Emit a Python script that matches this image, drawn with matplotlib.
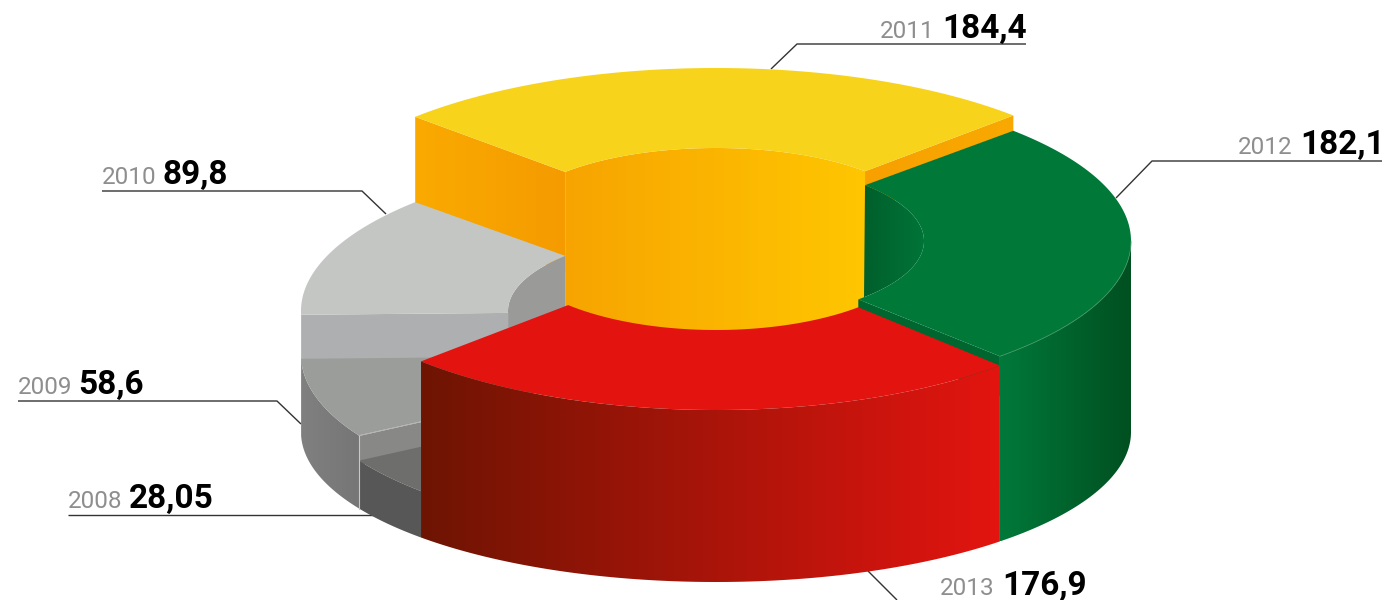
import numpy as np
import matplotlib
matplotlib.use('Agg')
import matplotlib.pyplot as plt
from matplotlib.colors import LinearSegmentedColormap
from matplotlib.patches import Polygon

# 数据
years = ['2008', '2009', '2010', '2011', '2012', '2013']
values = [28.05, 58.6, 89.8, 184.4, 182.1, 176.9]
value_labels = ['28,05', '58,6', '89,8', '184,4', '182,1', '176,9']

# 图形几何（像素坐标）
CX = 716
RX, RX_IN = 415, 208
START_ANGLE = 224.7
BASE_Y, BASE_RY = 432, 150
# 每块的顶面：中心 y、外 ry、内 ry
LEVELS = [(380, 158, 80), (355, 158, 80), (311, 158, 80),
          (225, 157, 77), (241, 158, 80), (246, 164, 84)]

plt.rcParams['font.family'] = ['Roboto', 'DejaVu Sans']

fig = plt.figure(figsize=(13.86, 6), dpi=100)
ax = fig.add_axes([0, 0, 1, 1])
ax.set_axis_off()


def arc(cy, rx, ry, a0, a1, n=120):
    t = np.radians(np.linspace(a0, a1, n))
    return np.column_stack([CX + rx * np.cos(t), cy - ry * np.sin(t)])


def fill(points, color, z=1, edge='none', lw=0):
    ax.add_patch(Polygon(points, closed=True, facecolor=color, edgecolor=edge, linewidth=lw, zorder=z))


def fill_gradient(points, color_left, color_right, z=1):
    """水平渐变，用多边形裁剪"""
    points = np.asarray(points)
    patch = Polygon(points, closed=True, facecolor='none', edgecolor='none', zorder=z)
    ax.add_patch(patch)
    cmap = LinearSegmentedColormap.from_list('g', [color_left, color_right])
    im = ax.imshow(np.linspace(0, 1, 256).reshape(1, -1), cmap=cmap, aspect='auto', zorder=z,
                   extent=(points[:, 0].min(), points[:, 0].max(), points[:, 1].max(), points[:, 1].min()))
    im.set_clip_path(patch)


def top_surface(i):
    cy, ry, ri = LEVELS[i]
    return np.vstack([arc(cy, RX, ry, edges[i], edges[i + 1]),
                      arc(cy, RX_IN, ri, edges[i + 1], edges[i])])


def outer_wall(i, a0, a1):
    cy, ry, ri = LEVELS[i]
    return np.vstack([arc(cy, RX, ry, a0, a1), arc(BASE_Y, RX, BASE_RY, a1, a0)])


def radial_wall(i, angle, drop):
    cy, ry, ri = LEVELS[i]
    inner = arc(cy, RX_IN, ri, angle, angle, 1)[0]
    outer = arc(cy, RX, ry, angle, angle, 1)[0]
    return np.array([inner, outer, outer + [0, drop], inner + [0, drop]])


edges = START_ANGLE - np.concatenate([[0], np.cumsum(values)]) / np.sum(values) * 360

# 2011 黄色块
cy, ry, ri = LEVELS[3]
hole = arc(cy, RX_IN, ri, edges[3], edges[4])
fill_gradient(np.vstack([hole, [hole[-1, 0], 340], [hole[0, 0], 340]]), '#F7A400', '#FFC600', z=1)
fill_gradient(radial_wall(3, edges[3], 100), '#FAAA00', '#F59B00', z=2)
fill_gradient(radial_wall(3, edges[4], 40), '#F7A000', '#F9A900', z=2)
fill(top_surface(3), '#F7D31C', z=3)

# 2012 绿色块
cy, ry, ri = LEVELS[4]
hole = arc(cy, RX_IN, ri, edges[4], edges[5])
hole[:, 0] = np.maximum(hole[:, 0], 864)
fill_gradient(hole, '#005F2B', '#007438', z=4)
fill(radial_wall(4, edges[5], 40), '#00662F', z=4)
fill(top_surface(4), '#007838', z=5)
fill_gradient(outer_wall(4, 0, edges[5]), '#00793A', '#004F20', z=4)
ax.plot(*arc(cy, RX, ry, 0, edges[5]).T, color='#3E9460', lw=0.6, zorder=6)

# 2010 灰色块
cy, ry, ri = LEVELS[2]
hole = arc(cy, RX_IN, ri, edges[3], edges[2])
fill(np.vstack([hole, [hole[-1, 0], 345], [hole[0, 0], 345]]), '#9A9B99', z=4)
fill(radial_wall(2, edges[2], 50), '#AEAFB1', z=5)
fill(top_surface(2), '#C4C6C4', z=6)

# 2009
fill(radial_wall(1, edges[1], 30), '#888886', z=7)
fill(top_surface(1), '#9B9D9B', z=8)
fill_gradient(outer_wall(1, edges[2], edges[1]), '#808080', '#767676', z=7)
# 2008
fill(top_surface(0), '#6E6E6C', z=9)
fill(outer_wall(0, edges[1], edges[0]), '#575757', z=9)
sep = radial_wall(1, edges[1], 0)
ax.plot(sep[:, 0], sep[:, 1], color='#B5B5B3', lw=0.6, zorder=10)
sep_x = arc(LEVELS[1][0], RX, LEVELS[1][1], edges[1], edges[1], 1)[0]
sep_low = arc(BASE_Y, RX, BASE_RY, edges[1], edges[1], 1)[0]
ax.plot([sep_x[0], sep_low[0]], [sep_x[1], sep_low[1]], color='#C8C8C8', lw=0.8, zorder=10)

# 2013 红色块
fill(top_surface(5), '#E3130F', z=11)
fill_gradient(outer_wall(5, edges[5], edges[6]), '#6E1503', '#E31410', z=11)

# 引线和文字
leaders = {
    '2008': ([68, 378], [515, 515]),
    '2009': ([18, 277, 301], [401, 401, 424]),
    '2010': ([102, 362, 386], [191, 191, 214]),
    '2011': ([1026, 797, 771], [44, 44, 69]),
    '2012': ([1382, 1152, 1116], [161, 161, 198]),
    '2013': ([868, 897], [571, 600]),
}
year_pos = {'2008': (68, 508), '2009': (18, 394), '2010': (102, 184),
            '2011': (880, 38), '2012': (1238, 154), '2013': (940, 595)}
value_pos = {'2008': (129, 508), '2009': (78, 394), '2010': (162, 184),
             '2011': (942, 38), '2012': (1300, 154), '2013': (1002, 595)}

for year, label in zip(years, value_labels):
    xs, ys = leaders[year]
    ax.plot(xs, ys, color='#333333', lw=1.0, zorder=0.5, solid_capstyle='butt')
    ax.text(*year_pos[year], year, fontsize=17.5, fontweight='normal', color='#8E8E8E', ha='left', va='baseline')
    ax.text(*value_pos[year], label, fontsize=24, fontweight='bold', color='#000000', ha='left', va='baseline')

ax.set_xlim(0, 1386)
ax.set_ylim(600, 0)
fig.savefig('out.png', dpi=100)
